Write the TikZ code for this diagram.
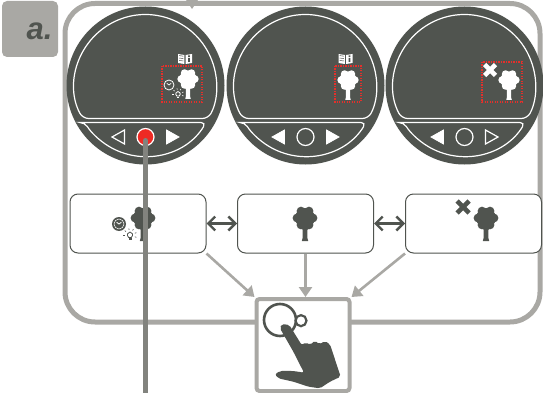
\documentclass[tikz,border=0pt]{standalone}
\usepackage{fontspec}
\setmainfont{Liberation Sans}
\usetikzlibrary{arrows.meta}
\definecolor{darkgr}{HTML}{50544F}
\definecolor{framegr}{HTML}{A9A8A4}
\definecolor{stemgr}{HTML}{82837E}
\definecolor{markred}{HTML}{E5302B}
\definecolor{btnred}{HTML}{EE2A24}
\tikzset{
  btnon/.style={fill=white,draw=white,line width=.8pt},
  btnoff/.style={draw=white,line width=1.2pt},
  btnring/.style={circle,draw=white,line width=1.2pt,fill=darkgr,minimum size=17pt,inner sep=0pt},
  btnhit/.style={circle,draw=white,line width=1.2pt,fill=btnred,minimum size=17pt,inner sep=0pt},
  statebox/.style={draw=darkgr,line width=1pt,rounded corners=8pt,fill=white,minimum width=136pt,minimum height=59pt,inner sep=0pt},
  markbox/.style={draw=markred,line width=1.1pt,dash pattern=on 1.3pt off 1.2pt},
  swaparrow/.style={darkgr,line width=2.4pt,{Straight Barb[length=7pt,width=14pt]}-{Straight Barb[length=7pt,width=14pt]}},
  pickarrow/.style={framegr,line width=2.6pt,-{Triangle[length=10pt,width=13pt]}},
  treeicon/.pic={
    \fill[#1] (0,0) circle (10);
    \foreach \a in {0,60,...,300} \fill[#1] (\a:8) circle (4.4);
    \fill[#1] (-5,-9) -- (0,-14) -- (5,-9) -- cycle;
    \fill[#1] (-2.4,-9) -- (2.4,-9) -- (2.4,-20) -- (3.2,-23) -- (-3.2,-23) -- (-2.4,-20) -- cycle;
  },
  bookicon/.pic={
    \fill[white] (-7,5) -- (-.6,4) -- (-.6,-5) -- (-7,-4) -- cycle;
    \fill[white] (7,5) -- (.6,4) -- (.6,-5) -- (7,-4) -- cycle;
    \draw[darkgr,line width=.5pt] (-5.8,3.4) -- (-1.6,2.8) (-5.8,1) -- (-1.6,.4) (-5.8,-1.4) -- (-1.6,-2);
    \fill[darkgr] (3,2) rectangle (4.8,3.6) (3,-3) rectangle (4.8,1);
  },
  clockicon/.pic={
    \fill[darkgr] (0,0) circle (5.5);
    \draw[white,line width=.8pt] (0,0) circle (5);
    \draw[white,line width=.7pt] (-2.2,1.7) -- (0,0) -- (2.2,1.7);
  },
  boxclock/.pic={
    \fill[darkgr] (0,0) circle (7);
    \draw[white,line width=.5pt] (0,0) circle (5);
    \draw[white,line width=.8pt] (-2.4,1.8) -- (0,0) -- (2.4,1.8);
  },
  bulbicon/.pic={
    \draw[#1,line width=.8pt] (-1.4,-2.4) .. controls (-4,0) and (-2,3) .. (0,3) .. controls (2,3) and (4,0) .. (1.4,-2.4) -- cycle;
    \fill[#1] (-1.5,-3.2) rectangle (1.5,-4.8);
    \foreach \a in {-20,20,...,200} \draw[#1,line width=.6pt] (\a:5.2) -- (\a:6.8);
  },
  crossicon/.pic={
    \draw[#1,line width=4.6pt] (-6,6) -- (6,-6) (-6,-6) -- (6,6);
  }
}
\begin{document}
\begin{tikzpicture}[x=1pt,y=1pt]
  \useasboundingbox (0,-393) rectangle (543,0);
  \node[fill=framegr,rounded corners=5pt,minimum size=56pt,inner sep=0pt] (tag) at (30,-29) {};
  \node[text=darkgr,inner sep=0pt] (taglabel) at (39.5,-31) {\fontsize{31}{31}\selectfont\bfseries\itshape a.};
  \draw[framegr,line width=5pt,rounded corners=30pt] (65,-3.5) rectangle (540,-322);
  \fill[framegr] (186,0) -- (198,0) -- (192,-9) -- cycle;
  \foreach \cx/\lstyle/\rstyle/\midstyle/\i in {145.5/btnoff/btnon/btnhit/1,305.5/btnon/btnon/btnring/2,464.5/btnon/btnoff/btnring/3}{
    \begin{scope}[shift={(\cx,-85.5)}]
      \fill[darkgr] (0,0) circle (79);
      \draw[white,line width=1.2pt,rounded corners=6pt] (-62.9,-33) arc[start angle=207.7,end angle=-27.7,radius=71] -- cycle;
      \draw[white,line width=1.2pt,rounded corners=5pt] (-60.6,-37) -- (60.6,-37) arc[start angle=-31.4,end angle=-148.6,radius=71] -- cycle;
      \draw[\lstyle] (-21,-44.5) -- (-21,-58.5) -- (-33.5,-51.5) -- cycle;
      \draw[\rstyle] (21,-44.5) -- (21,-58.5) -- (33.5,-51.5) -- cycle;
      \node[\midstyle] (btn\i) at (0,-51.5) {};
    \end{scope}
  }
  \draw[markbox] (162,-66) rectangle (202,-102);
  \draw[markbox] (335,-66) rectangle (361,-102);
  \draw[markbox] (482,-62) rectangle (522,-102);
  \pic[scale=.86] at (188,-79) {treeicon=white};
  \pic[scale=.86] at (348,-80) {treeicon=white};
  \pic[scale=.86] at (509,-80) {treeicon=white};
  \pic at (185,-59) {bookicon};
  \pic at (345.5,-59) {bookicon};
  \pic at (169,-85) {clockicon};
  \pic[scale=.85] at (178,-94) {bulbicon=white};
  \pic[scale=.9] at (490,-70) {crossicon=white};
  \node[statebox] (boxa) at (138,-223.5) {};
  \node[statebox] (boxb) at (305.5,-223.5) {};
  \node[statebox] (boxc) at (473.5,-223.5) {};
  \pic at (143,-218) {treeicon=darkgr};
  \pic at (305,-218) {treeicon=darkgr};
  \pic at (486,-218) {treeicon=darkgr};
  \pic at (119,-224) {boxclock};
  \pic at (130,-235) {bulbicon=darkgr};
  \pic at (463,-207) {crossicon=darkgr};
  \draw[swaparrow] (boxa.east) -- (boxb.west);
  \draw[swaparrow] (boxb.east) -- (boxc.west);
  \node[draw=framegr,line width=4pt,rounded corners=3pt,fill=white,minimum width=93pt,minimum height=92pt,inner sep=0pt] (touch) at (303,-345) {};
  \draw[pickarrow] (boxa.south east) -- (touch.north west);
  \draw[pickarrow] (boxb.south) -- (touch.north -| boxb.south);
  \draw[pickarrow] (boxc.south west) -- (touch.north east);
  \begin{scope}[shift={(230,-285)},x=.3333pt,y=-.3333pt]
    \draw[darkgr,line width=2.6pt] (150,105) circle (16pt);
    \draw[darkgr,line width=2.2pt,fill=white] (213,107) circle (5.5pt);
    \fill[darkgr,rounded corners=2pt] (155,117) -- (178,120) -- (215,180) -- (228,172) -- (240,180) -- (255,167) -- (268,178) -- (285,168) -- (300,178) -- (332,275) -- (300,290) -- (270,310) -- (235,305) -- (190,290) -- (145,280) -- (135,268) -- (150,258) -- (190,258) -- (222,263) -- (190,200) -- (150,130) -- cycle;
  \end{scope}
  \coordinate (stemend) at (145.5,-393);
  \draw[stemgr,line width=5pt,line cap=round,shorten <=3.5pt] (btn1.center) -- (stemend);
\end{tikzpicture}
\end{document}
